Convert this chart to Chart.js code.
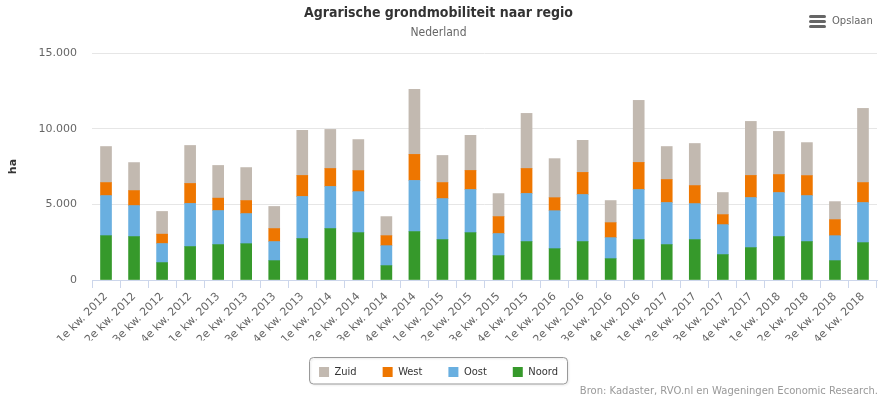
<!DOCTYPE html>
<html lang="nl">
<head>
<meta charset="utf-8">
<title>Agrarische grondmobiliteit naar regio</title>
<script src="https://cdn.jsdelivr.net/npm/chart.js@4"></script>
<style>
    html, body { margin: 0; padding: 0; background: #ffffff; }
    #wrap { position: relative; width: 889px; height: 398px; }
</style>
</head>
<body>
<div id="wrap"><canvas id="grond-chart"></canvas></div>
<script>
// Kwartalen en hectares per regio
const kwartalen = [
    '1e kw. 2012', '2e kw. 2012', '3e kw. 2012', '4e kw. 2012',
    '1e kw. 2013', '2e kw. 2013', '3e kw. 2013', '4e kw. 2013',
    '1e kw. 2014', '2e kw. 2014', '3e kw. 2014', '4e kw. 2014',
    '1e kw. 2015', '2e kw. 2015', '3e kw. 2015', '4e kw. 2015',
    '1e kw. 2016', '2e kw. 2016', '3e kw. 2016', '4e kw. 2016',
    '1e kw. 2017', '2e kw. 2017', '3e kw. 2017', '4e kw. 2017',
    '1e kw. 2018', '2e kw. 2018', '3e kw. 2018', '4e kw. 2018'
];
const noord = [2930, 2870, 1150, 2210, 2340, 2400, 1280, 2740, 3400, 3130, 950, 3200, 2670, 3130,
    1610, 2540, 2070, 2540, 1410, 2670, 2340, 2670, 1680, 2140, 2870, 2540, 1280, 2470];
const oost = [2650, 2050, 1260, 2850, 2250, 1990, 1260, 2780, 2780, 2710, 1320, 3380, 2710, 2850,
    1460, 3180, 2510, 3110, 1390, 3310, 2780, 2380, 1980, 3310, 2910, 3040, 1650, 2650];
const west = [860, 990, 620, 1320, 820, 860, 860, 1390, 1190, 1390, 660, 1720, 1060, 1260,
    1120, 1650, 860, 1460, 990, 1790, 1520, 1190, 660, 1460, 1190, 1320, 1060, 1320];
const zuid = [2380, 1850, 1500, 2510, 2160, 2180, 1460, 2980, 2580, 2050, 1260, 4300, 1790, 2320,
    1520, 3640, 2580, 2120, 1460, 4100, 2180, 2780, 1460, 3570, 2850, 2180, 1190, 4900];
const yTicks = [0, 5000, 10000, 15000];

document.addEventListener('DOMContentLoaded', function () {
    Chart.defaults.font.family = "'DejaVu Sans', Verdana, sans-serif";
    Chart.defaults.font.size = 11;

    const smal = "'DejaVu Sans Condensed', 'DejaVu Sans', sans-serif";
    const duizendtal = v => String(v).replace(/\B(?=(\d{3})+(?!\d))/g, '.');

    // Legenda: vaste hoogte zodat de grafiek op zijn plek blijft
    const legendaHoogte = {
        id: 'legendaHoogte',
        beforeInit(chart) {
            const legend = chart.legend;
            if (!legend) return;
            const fit = legend.fit;
            legend.fit = function () {
                fit.call(this);
                this.height = 43.5;
            };
        }
    };

    // Kader om de legenda, menu-knop en bronvermelding
    const extras = {
        id: 'extras',
        afterDraw(chart) {
            const ctx = chart.ctx;
            const boxes = chart.legend.legendHitBoxes;
            if (boxes && boxes.length) {
                const left = Math.min(...boxes.map(b => b.left)) - 10;
                const right = Math.max(...boxes.map(b => b.left + b.width)) + 9;
                ctx.save();
                ctx.shadowColor = 'rgba(0,0,0,0.12)';
                ctx.shadowOffsetX = 1;
                ctx.shadowOffsetY = 1;
                ctx.shadowBlur = 2;
                ctx.strokeStyle = '#999999';
                ctx.lineWidth = 1;
                ctx.beginPath();
                ctx.roundRect(Math.round(left) + 0.5, 357.5, Math.round(right - left), 26.5, 4);
                ctx.stroke();
                ctx.restore();
            }

            ctx.save();
            ctx.strokeStyle = '#666666';
            ctx.lineWidth = 3;
            ctx.lineCap = 'round';
            [16.5, 21.5, 26.5].forEach(y => {
                ctx.beginPath();
                ctx.moveTo(810.5, y);
                ctx.lineTo(824.5, y);
                ctx.stroke();
            });
            ctx.fillStyle = '#666666';
            ctx.font = "10px 'DejaVu Sans', sans-serif";
            ctx.textBaseline = 'middle';
            ctx.textAlign = 'left';
            ctx.fillText('Opslaan', 832, 21.5);

            ctx.fillStyle = '#999999';
            ctx.textAlign = 'right';
            ctx.fillText('Bron: Kadaster, RVO.nl en Wageningen Economic Research.', 878, 391);
            ctx.restore();
        }
    };

    const grondData = {
        labels: kwartalen,
        datasets: [
            { label: 'Noord', data: noord, backgroundColor: '#36992b' },
            { label: 'Oost', data: oost, backgroundColor: '#69afe0' },
            { label: 'West', data: west, backgroundColor: '#ee7600' },
            { label: 'Zuid', data: zuid, backgroundColor: '#c2b9b0' }
        ]
    };

    const grondConfig = {
        type: 'bar',
        data: grondData,
        options: {
            responsive: true,
            maintainAspectRatio: false,
            animation: false,
            barThickness: 11,
            layout: { padding: { top: 0, right: 12, bottom: 14, left: 0 } },
            scales: {
                x: {
                    stacked: true,
                    grid: {
                        drawOnChartArea: false,
                        color: '#ccd6eb',
                        tickLength: 8
                    },
                    border: { color: '#ccd6eb' },
                    ticks: {
                        color: '#666666',
                        maxRotation: 45,
                        minRotation: 45,
                        autoSkip: false,
                        padding: 2
                    },
                    afterFit(scale) { scale.height = 60.5; }
                },
                y: {
                    stacked: true,
                    min: 0,
                    max: 15000,
                    afterBuildTicks(scale) { scale.ticks = yTicks.map(v => ({ value: v })); },
                    grid: { color: '#e6e6e6', drawTicks: false },
                    border: { display: false },
                    ticks: {
                        color: '#666666',
                        padding: 15,
                        callback: v => duizendtal(v)
                    },
                    title: {
                        display: true,
                        text: 'ha',
                        color: '#333333',
                        font: { weight: 'bold', size: 11 },
                        padding: { top: 7, bottom: 0 }
                    },
                    afterFit(scale) { scale.width = 92; }
                }
            },
            plugins: {
                title: {
                    display: true,
                    text: 'Agrarische grondmobiliteit naar regio',
                    color: '#333333',
                    font: { family: smal, size: 14, weight: 'bold' },
                    padding: { top: 5, bottom: 4 }
                },
                subtitle: {
                    display: true,
                    text: 'Nederland',
                    color: '#666666',
                    font: { family: smal, size: 12 },
                    padding: { top: 0, bottom: 12.8 }
                },
                legend: {
                    position: 'bottom',
                    reverse: true,
                    labels: {
                        boxWidth: 10,
                        boxHeight: 10,
                        padding: 26,
                        color: '#333333',
                        font: { family: smal, size: 11 }
                    }
                },
                tooltip: { enabled: false }
            }
        },
        plugins: [legendaHoogte, extras]
    };

    // Grafiek tekenen
    const grondChart = new Chart(document.getElementById('grond-chart'), grondConfig);
});
</script>
</body>
</html>
